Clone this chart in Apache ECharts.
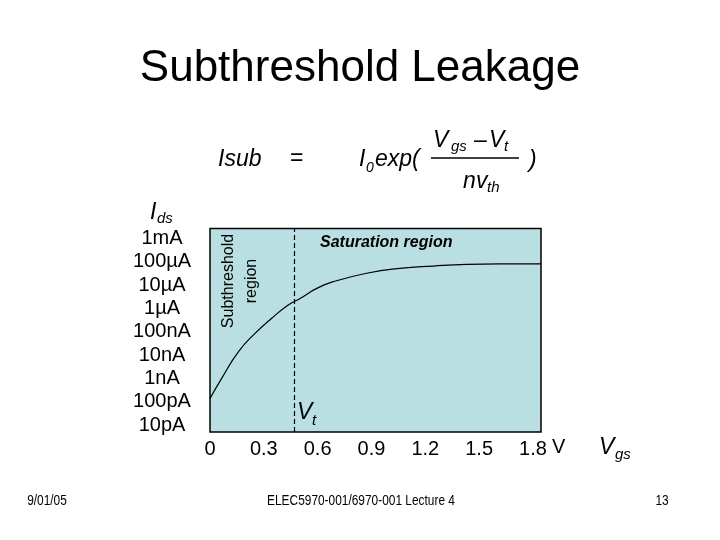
<!DOCTYPE html>
<html>
<head>
<meta charset="utf-8">
<script src="https://cdn.jsdelivr.net/npm/echarts@6/dist/echarts.min.js"></script>
<style>html,body{margin:0;padding:0;background:#fff}#c{width:720px;height:540px}</style>
</head>
<body>
<div id="c"></div>
<script>
// Data (Vgs in volts, Ids as log10 of amperes)
var vgs = [0, 0.065, 0.158, 0.251, 0.344, 0.436, 0.502, 0.595, 0.687, 0.873, 1.059, 1.245, 1.431, 1.617, 1.845];
var logIds = [-9.86, -9.00, -7.86, -7.07, -6.42, -5.85, -5.57, -5.14, -4.85, -4.49, -4.28, -4.18, -4.11, -4.09, -4.09];
var xTicks = [0, 0.3, 0.6, 0.9, 1.2, 1.5, 1.8];
var xTickLabels = ['0', '0.3', '0.6', '0.9', '1.2', '1.5', '1.8'];
var yTicks = [-11, -10, -9, -8, -7, -6, -5, -4, -3];
var yTickLabels = ['10pA', '100pA', '1nA', '10nA', '100nA', '1\u00b5A', '10\u00b5A', '100\u00b5A', '1mA'];
var vt = 0.474;

var F = '"Liberation Sans", Arial, sans-serif';

function txt(t, x, y, size, opts) {
  opts = opts || {};
  return {
    type: 'text', x: x, y: y, rotation: opts.rot || 0, scaleX: opts.sx || 1,
    style: {
      text: t, fill: '#000',
      font: (opts.italic ? 'italic ' : '') + (opts.bold ? 'bold ' : '') + size + 'px ' + (opts.family || F),
      textAlign: opts.align || 'left', textVerticalAlign: 'middle'
    }
  };
}

var chart = echarts.init(document.getElementById('c'));
chart.setOption({
  backgroundColor: '#fff',
  animation: false,
  grid: { left: 210, top: 228.5, right: 179, bottom: 108, show: true, backgroundColor: '#b9dfe2', borderColor: '#000', borderWidth: 1.5 },
  xAxis: {
    type: 'value', min: 0, max: 1.845,
    axisLine: { show: false }, axisTick: { show: false }, splitLine: { show: false },
    axisLabel: {
      customValues: xTicks, margin: 7, color: '#000', fontSize: 20, fontFamily: F,
      formatter: function (v) { var i = xTicks.indexOf(Math.round(v * 10) / 10); return i >= 0 ? xTickLabels[i] : ''; }
    }
  },
  yAxis: {
    type: 'value', min: -11.3, max: -2.57,
    axisLine: { show: false }, axisTick: { show: false }, splitLine: { show: false },
    axisLabel: {
      customValues: yTicks, margin: 48, align: 'center', color: '#000', fontSize: 20, fontFamily: F,
      formatter: function (v) { var i = yTicks.indexOf(Math.round(v)); return i >= 0 ? yTickLabels[i] : ''; }
    }
  },
  series: [{
    type: 'line', smooth: true, showSymbol: false, symbol: 'none',
    data: vgs.map(function (v, i) { return [v, logIds[i]]; }),
    lineStyle: { color: '#000', width: 1.2 },
    markLine: {
      silent: true, symbol: 'none', label: { show: false },
      lineStyle: { color: '#000', type: [5, 3], width: 1.2 },
      data: [{ xAxis: vt }]
    }
  }],
  graphic: [
    txt('Subthreshold Leakage', 360, 69, 44, { align: 'center' }),
    // formula
    txt('Isub', 218, 160, 23, { italic: true }),
    txt('=', 290, 159, 23),
    txt('I', 359, 160, 23, { italic: true }),
    txt('0', 366, 168, 14, { italic: true }),
    txt('exp(', 375, 160, 23, { italic: true }),
    txt('V', 433, 141, 23, { italic: true }),
    txt('gs', 451, 147, 15, { italic: true }),
    txt('\u2013', 474, 141, 23),
    txt('V', 489, 141, 23, { italic: true }),
    txt('t', 504, 147, 15, { italic: true }),
    { type: 'line', shape: { x1: 431, y1: 158, x2: 519, y2: 158 }, style: { stroke: '#000', lineWidth: 1.5 } },
    txt('n', 463, 182, 23, { italic: true }),
    txt('v', 476, 182, 23, { italic: true }),
    txt('th', 487, 188, 15, { italic: true }),
    txt(')', 529, 161, 23, { italic: true }),
    // axis titles
    txt('I', 150, 213, 23, { italic: true }),
    txt('ds', 157, 219, 15, { italic: true }),
    txt('V', 552, 447, 20),
    txt('V', 599, 448, 23, { italic: true }),
    txt('gs', 615, 455, 15, { italic: true }),
    // annotations
    txt('Subthreshold', 229, 281, 16, { align: 'center', rot: Math.PI / 2 }),
    txt('region', 252, 281, 16, { align: 'center', rot: Math.PI / 2 }),
    txt('Saturation region', 320, 243, 16, { italic: true, bold: true }),
    txt('V', 297, 413, 23, { italic: true }),
    txt('t', 312, 421, 15, { italic: true }),
    // footer
    txt('9/01/05', 47, 501, 14, { align: 'center', sx: 0.85 }),
    txt('ELEC5970-001/6970-001 Lecture 4', 361, 501, 14, { align: 'center', sx: 0.85 }),
    txt('13', 662, 501, 14, { align: 'center', sx: 0.85 })
  ]
});
</script>
</body>
</html>
